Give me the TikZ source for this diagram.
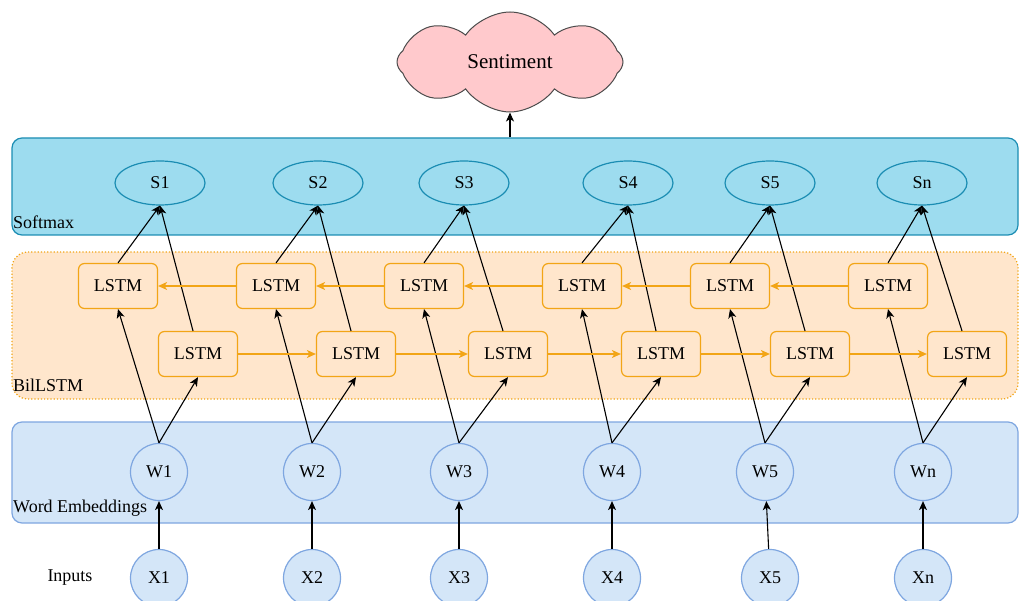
\documentclass[tikz,border=0pt]{standalone}
\usepackage{fontspec}
\setmainfont{Liberation Serif}
\newfontfamily\tnr{Liberation Serif}
\usetikzlibrary{shapes.geometric,shapes.symbols,arrows.meta}
\definecolor{smfill}{HTML}{9DDCEF}
\definecolor{smstroke}{HTML}{1B8DB3}
\definecolor{lfill}{HTML}{FFE6CC}
\definecolor{lstroke}{HTML}{F2A516}
\definecolor{wfill}{HTML}{D4E6F8}
\definecolor{wstroke}{HTML}{7EA6E0}
\definecolor{cloudpink}{HTML}{FFC9CC}
\tikzset{
  txt/.style={font=\tnr\fontsize{18}{21}\selectfont},
  band/.style={rectangle, rounded corners=10pt, line width=1.2pt, inner sep=0pt},
  smnode/.style={ellipse, draw=smstroke, fill=smfill, line width=1.2pt, minimum width=90pt, minimum height=44pt, inner sep=0pt, txt},
  lstm/.style={rectangle, rounded corners=6pt, draw=lstroke, fill=lfill, line width=1.2pt, minimum width=79pt, minimum height=45pt, inner sep=0pt, txt},
  wnode/.style={circle, draw=wstroke, fill=wfill, line width=1.2pt, minimum size=57pt, inner sep=0pt, txt},
  arr/.style={black, line width=1.1pt, -{Stealth[length=9pt,width=8pt,inset=2.5pt]}},
  oarr/.style={lstroke, line width=1.2pt, -{Stealth[length=9pt,width=8pt,inset=2.5pt]}},
  lbl/.style={anchor=west, inner sep=0pt, txt}
}
\begin{document}
\begin{tikzpicture}[x=1pt,y=-1pt]
\useasboundingbox (0,0) rectangle (1019,601);
% bands
\node[band, draw=smstroke, fill=smfill, minimum width=1006pt, minimum height=97pt] (smband) at (515,186.5) {};
\node[band, rounded corners=16pt, draw=lstroke, fill=lfill, dotted, minimum width=1006pt, minimum height=147pt] (lband) at (515,325.5) {};
\node[band, draw=wstroke, fill=wfill, minimum width=1006pt, minimum height=101pt] (wband) at (515,472.5) {};
\node[lbl] (smlbl) at (13,222) {Softmax};
\node[lbl] (llbl) at (13,385) {BilLSTM};
\node[lbl] (wlbl) at (13,508) {Word Embeddings};
\node[txt] (inlbl) at (70,578) {Inputs};
% cloud
\node[cloud, cloud puffs=8, cloud puff arc=110, aspect=2.3, minimum width=226pt, minimum height=100pt, fill=cloudpink, draw=black!70, line width=1pt, font=\tnr\fontsize{21}{24}\selectfont] (sent) at (510,62) {Sentiment};
% nodes
\foreach \i/\sx/\tx/\bx/\wx/\xx/\l in {1/160/118/198/159/159/1,2/318/276/356/312/312/2,3/464/424/508/459/459/3,4/628/582/661/612/612/4,5/770/730/810/765/770/5,6/922/888/967/923/923/n}{
  \node[smnode] (s\i) at (\sx,183) {S\l};
  \node[lstm] (t\i) at (\tx,286) {LSTM};
  \node[lstm] (b\i) at (\bx,354) {LSTM};
  \node[wnode] (w\i) at (\wx,472) {W\l};
  \node[wnode] (x\i) at (\xx,578) {X\l};
}
% connectors
\foreach \i in {1,...,6}{
  \draw[arr] (x\i) -- (w\i);
  \draw[arr] (w\i.north) -- (t\i.south);
  \draw[arr] (w\i.north) -- (b\i.south);
  \draw[arr] (t\i.north) -- (s\i.south);
  \draw[arr] ([xshift=-5pt]b\i.north) -- (s\i.south);
}
\foreach \i/\j in {1/2,2/3,3/4,4/5,5/6}{
  \draw[oarr] (b\i) -- (b\j);
  \draw[oarr] (t\j) -- (t\i);
}
\coordinate (cl) at (sent.south |- smband.north);
\draw[arr] (cl) -- (sent.south);
\end{tikzpicture}
\end{document}
